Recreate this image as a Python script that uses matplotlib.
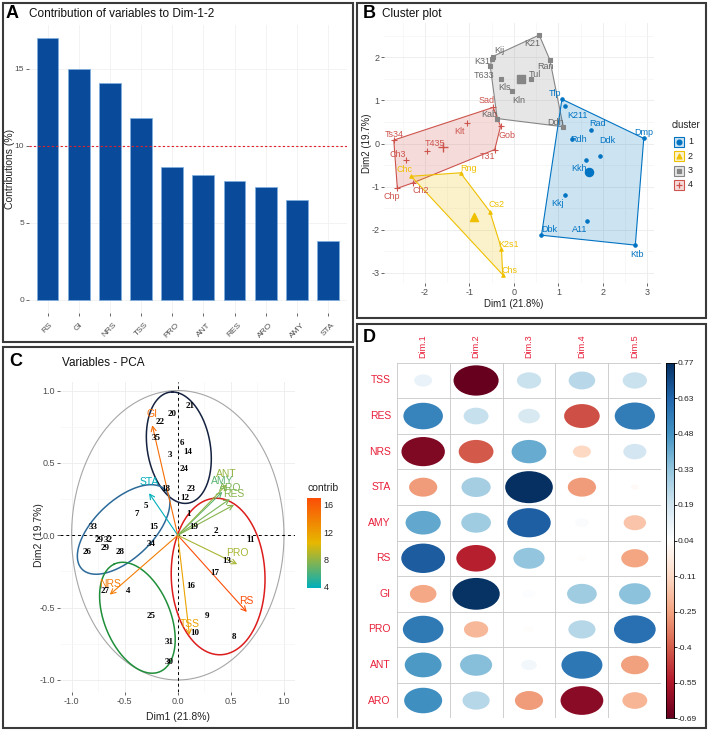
"""Four-panel PCA summary: contributions, cluster plot, variable map, loadings."""

import matplotlib

matplotlib.use("Agg")
import matplotlib.pyplot as plt
import numpy as np
from matplotlib.colors import LinearSegmentedColormap, Normalize
from matplotlib.patches import Ellipse, Polygon, Rectangle

plt.rcParams["font.family"] = ["Liberation Sans", "DejaVu Sans"]
plt.rcParams["axes.unicode_minus"] = False

W, H = 708, 731

# ---- panel A: contribution of variables to Dim-1-2 (%)
VARS_A = ["RS", "GI", "NRS", "TSS", "PRO", "ANT", "RES", "ARO", "AMY", "STA"]
CONTRIB_A = [17.0, 15.0, 14.1, 11.8, 8.66, 8.1, 7.75, 7.36, 6.47, 3.85]

# ---- panel D: loadings of variables on the first five dimensions
VARS_D = ["TSS", "RES", "NRS", "STA", "AMY", "RS", "GI", "PRO", "ANT", "ARO"]
DIMS = ["Dim.1", "Dim.2", "Dim.3", "Dim.4", "Dim.5"]
LOAD_DIM1 = [0.11, 0.53, -0.64, -0.27, 0.42, 0.65, -0.24, 0.56, 0.46, 0.49]
LOAD_DIM2 = [-0.69, 0.21, -0.41, 0.29, 0.30, -0.53, 0.76, -0.20, 0.35, 0.25]
LOAD_DIM3 = [0.20, 0.16, 0.41, 0.77, 0.64, 0.33, 0.05, 0.03, 0.08, -0.27]
LOAD_DIM4 = [0.24, -0.43, -0.11, -0.27, 0.06, 0.03, 0.30, 0.25, 0.57, -0.62]
LOAD_DIM5 = [0.20, 0.55, 0.18, 0.02, -0.17, -0.25, 0.34, 0.59, -0.26, -0.21]
CBAR_D_LABELS = ["0.77", "0.63", "0.48", "0.33", "0.19", "0.04",
                 "-0.11", "-0.25", "-0.4", "-0.55", "-0.69"]

# ---- panel B: individuals on Dim1/Dim2 with k-means cluster
B_NAMES = ["K21", "Kij", "K31", "T633", "Ran", "Tul", "Kls", "Kln", "Ddh", "Kab",
           "Sad", "Klt", "Ts34", "T435", "Gob", "Ch3", "T31", "Ch2", "Chp",
           "Chc", "Rng", "Cs2", "K2s1", "Chs",
           "Tlp", "K211", "Rad", "Rdh", "Ddk", "Kkh", "Kkj", "A11", "Dbk", "Ktb", "Dmp"]
B_CLUSTER = [3, 3, 3, 3, 3, 3, 3, 3, 3, 3,
             4, 4, 4, 4, 4, 4, 4, 4, 4,
             2, 2, 2, 2, 2,
             1, 1, 1, 1, 1, 1, 1, 1, 1, 1, 1]
B_X = [0.57, -0.48, -0.50, -0.53, 0.81, 0.375, -0.285, -0.045, 1.11, -0.375,
       -0.465, -1.05, -2.70, -1.96, -0.30, -2.43, -0.43, -2.26, -2.62,
       -2.31, -1.20, -0.54, -0.28, -0.25,
       1.08, 1.146, 1.74, 1.31, 1.93, 1.63, 1.15, 1.65, 0.62, 2.73, 2.92]
B_Y = [2.52, 2.02, 1.96, 1.79, 1.94, 1.51, 1.50, 1.22, 0.39, 0.58,
       0.84, 0.47, 0.08, -0.17, 0.40, -0.39, -0.14, -0.91, -1.04,
       -0.76, -0.68, -1.58, -2.44, -3.05,
       1.03, 0.875, 0.31, 0.10, -0.28, -0.39, -1.20, -1.79, -2.13, -2.36, 0.12]
CLUSTERS = [1, 2, 3, 4]
CENTROID_X = [1.68, -0.90, 0.17, -1.59]
CENTROID_Y = [-0.66, -1.70, 1.49, -0.09]

# ---- panel C: individual numbers drawn on the variable map
C_IDS = ["21", "20", "22", "35", "6", "14", "3", "24", "18", "23", "12", "5", "7",
         "1", "33", "15", "19", "2", "11", "29", "32", "29", "26", "28", "34",
         "13", "17", "16", "27", "4", "25", "9", "10", "8", "31", "30"]
C_X = [0.115, -0.052, -0.168, -0.199, 0.043, 0.09, -0.073, 0.058, -0.114, 0.121,
       0.065, -0.30, -0.387, 0.10, -0.795, -0.224, 0.146, 0.36, 0.686, -0.745,
       -0.654, -0.683, -0.852, -0.544, -0.255, 0.46, 0.344, 0.121, -0.683, -0.472,
       -0.252, 0.272, 0.162, 0.529, -0.083, -0.083]
C_Y = [0.894, 0.838, 0.78, 0.67, 0.636, 0.576, 0.553, 0.46, 0.318, 0.318,
       0.26, 0.20, 0.145, 0.145, 0.06, 0.055, 0.055, 0.03, -0.032, -0.032,
       -0.032, -0.09, -0.118, -0.118, -0.06, -0.175, -0.263, -0.348, -0.383, -0.383,
       -0.556, -0.556, -0.673, -0.70, -0.735, -0.873]

CLUSTER_COLORS = {1: "#0073C2", 2: "#EFC000", 3: "#868686", 4: "#CD534C"}
CLUSTER_MARKERS = {1: "o", 2: "^", 3: "s", 4: "+"}
LABEL_RED = "#E8203A"
TICK_GRAY = "#4d4d4d"

# label positions (data units) for the cluster plot
B_LABEL_POS = {
  "K21": (0.41, 2.32), "Kij": (-0.32, 2.15), "K31": (-0.71, 1.91),
  "T633": (-0.67, 1.59), "Ran": (0.71, 1.80), "Tul": (0.48, 1.61),
  "Kls": (-0.21, 1.30), "Kln": (0.11, 0.99), "Ddh": (0.93, 0.48),
  "Kab": (-0.56, 0.68), "Sad": (-0.61, 1.01), "Klt": (-1.23, 0.29),
  "Ts34": (-2.70, 0.20), "T435": (-1.78, -0.01), "Gob": (-0.15, 0.19),
  "Ch3": (-2.60, -0.25), "T31": (-0.60, -0.31), "Ch2": (-2.09, -1.10),
  "Chp": (-2.75, -1.24), "Chc": (-2.47, -0.60), "Rng": (-1.01, -0.58),
  "Cs2": (-0.39, -1.41), "K2s1": (-0.13, -2.34), "Chs": (-0.10, -2.96),
  "Tlp": (0.93, 1.16), "K211": (1.42, 0.66), "Rad": (1.87, 0.46),
  "Rdh": (1.46, 0.10), "Ddk": (2.09, 0.06), "Kkh": (1.46, -0.58),
  "Kkj": (0.99, -1.39), "A11": (1.48, -2.00), "Dbk": (0.79, -2.00),
  "Ktb": (2.76, -2.58), "Dmp": (2.92, 0.25),
}

# concentration ellipses of panel C: colour, centre, two conjugate half-axes
C_ELLIPSES = [
  ("#14213f", (0.01, 0.605), (-0.06, 0.385), (0.30, 0.0)),
  ("#2c6a9a", (-0.51, 0.04), (0.424, 0.236), (-0.10, 0.20)),
  ("#1f8f3a", (-0.38, -0.57), (-0.22, 0.37), (0.28, 0.10)),
  ("#dd1c1c", (0.38, -0.285), (-0.04, 0.54), (0.44, 0.03)),
]


def px_axes(fig, left, top, right, bottom):
  return fig.add_axes([left / W, 1 - bottom / H, (right - left) / W, (bottom - top) / H])


def fig_text(fig, x, y, s, **kw):
  return fig.text(x / W, 1 - y / H, s, **kw)


def convex_hull(points):
  pts = sorted(set(points))
  if len(pts) < 3:
    return pts

  def cross(o, a, b):
    return (a[0] - o[0]) * (b[1] - o[1]) - (a[1] - o[1]) * (b[0] - o[0])

  lower, upper = [], []
  for p in pts:
    while len(lower) >= 2 and cross(lower[-2], lower[-1], p) <= 0:
      lower.pop()
    lower.append(p)
  for p in reversed(pts):
    while len(upper) >= 2 and cross(upper[-2], upper[-1], p) <= 0:
      upper.pop()
    upper.append(p)
  return lower[:-1] + upper[:-1]


def style_gg(ax, size=6.5):
  for s in ax.spines.values():
    s.set_visible(False)
  ax.tick_params(length=2, width=0.6, color=TICK_GRAY, labelcolor=TICK_GRAY,
                 labelsize=size, pad=1.5)
  ax.set_axisbelow(True)


def panel_a(fig):
  ax = px_axes(fig, 28.8, 25, 346.7, 313)
  x = np.arange(len(VARS_A))
  ax.bar(x, CONTRIB_A, width=0.7, color="#0A4A9A", edgecolor="#7fb0e0", linewidth=0.5)
  ax.axhline(10, color="#e0202a", ls=(0, (2, 2)), lw=0.8)
  ax.set_xlim(-0.6, len(VARS_A) - 0.4)
  ax.set_ylim(-0.85, 17.85)
  ax.set_yticks([0, 5, 10, 15])
  ax.set_xticks(x)
  ax.set_xticklabels(VARS_A, rotation=45, ha="center", va="top")
  ax.grid(True, color="#f1f1f1", lw=0.6)
  style_gg(ax, 6)
  ax.tick_params(axis="x", pad=4)
  fig_text(fig, 10, 169, "Contributions (%)", rotation=90, ha="center", va="center",
           fontsize=7.5, color="#222222")
  fig_text(fig, 29, 14, "Contribution of variables to Dim-1-2", fontsize=8.5,
           va="center", color="#111111")
  fig_text(fig, 6, 14, "A", fontsize=13, fontweight="bold", va="center")


def panel_b(fig):
  ax = px_axes(fig, 384, 23, 654, 283)
  names = np.array(B_NAMES)
  cl = np.array(B_CLUSTER)
  xs = np.array(B_X)
  ys = np.array(B_Y)
  for c in [3, 4, 2, 1]:
    m = cl == c
    col = CLUSTER_COLORS[c]
    hull = convex_hull(list(zip(xs[m], ys[m])))
    ax.add_patch(Polygon(hull, closed=True, facecolor=col, alpha=0.2, edgecolor="none"))
    ax.add_patch(Polygon(hull, closed=True, facecolor="none", edgecolor=col, lw=0.8))
  for c in CLUSTERS:
    m = cl == c
    col = CLUSTER_COLORS[c]
    mk = CLUSTER_MARKERS[c]
    ax.scatter(xs[m], ys[m], marker=mk, s=6 if mk != "+" else 18, color=col,
               linewidths=0.8, zorder=3)
    i = CLUSTERS.index(c)
    ax.scatter([CENTROID_X[i]], [CENTROID_Y[i]], marker=mk, s=34 if mk != "+" else 60,
               color=col, linewidths=1.0, zorder=3)
    tcol = "#666666" if c == 3 else col
    for n in names[m]:
      lx, ly = B_LABEL_POS[n]
      ax.text(lx, ly, n, fontsize=6.5, color=tcol, ha="center", va="center", zorder=4)
  ax.set_xlim(-2.92, 3.15)
  ax.set_ylim(-3.24, 2.80)
  ax.set_xticks([-2, -1, 0, 1, 2, 3])
  ax.set_yticks([-3, -2, -1, 0, 1, 2])
  ax.set_xticks(np.arange(-2.5, 3.1, 1), minor=True)
  ax.set_yticks(np.arange(-2.5, 2.6, 1), minor=True)
  ax.grid(True, which="major", color="#ebebeb", lw=0.6)
  ax.grid(True, which="minor", color="#f4f4f4", lw=0.5)
  ax.tick_params(which="minor", length=0)
  style_gg(ax)
  fig_text(fig, 514, 304, "Dim1 (21.8%)", ha="center", va="center", fontsize=7,
           color="#222222")
  fig_text(fig, 367, 143, "Dim2 (19.7%)", rotation=90, ha="center", va="center",
           fontsize=7, color="#222222")
  fig_text(fig, 382, 13.5, "Cluster plot", fontsize=8.5, va="center", color="#111111")
  fig_text(fig, 363, 13.5, "B", fontsize=13, fontweight="bold", va="center")

  # legend
  lax = px_axes(fig, 665, 115, 705, 195)
  lax.set_xlim(665, 705)
  lax.set_ylim(195, 115)
  lax.axis("off")
  lax.text(672, 125, "cluster", fontsize=7, va="center", ha="left", color="#222222")
  for k, c in enumerate(CLUSTERS):
    yc = 141.7 + 14.4 * k
    col = CLUSTER_COLORS[c]
    lax.add_patch(Rectangle((674, yc - 5), 10, 10, facecolor=col, alpha=0.2,
                            edgecolor="none"))
    lax.add_patch(Rectangle((674, yc - 5), 10, 10, facecolor="none", edgecolor=col,
                            lw=0.8))
    mk = CLUSTER_MARKERS[c]
    lax.scatter([679], [yc], marker=mk, s=12 if mk != "+" else 22, color=col,
                linewidths=0.9)
    lax.text(688, yc, str(c), fontsize=6.5, va="center", ha="left", color="#222222")


def panel_c(fig):
  ax = px_axes(fig, 60, 381.7, 295, 691.7)
  t = np.linspace(0, 2 * np.pi, 300)
  ax.plot(np.cos(t), np.sin(t), color="#a6a6a6", lw=0.8)
  ax.axhline(0, color="black", ls=(0, (3, 3)), lw=0.7)
  ax.axvline(0, color="black", ls=(0, (3, 3)), lw=0.7)

  cmap = LinearSegmentedColormap.from_list("contrib", ["#00AFBB", "#E7B800", "#FC4E07"])
  norm = Normalize(min(CONTRIB_A), max(CONTRIB_A))
  contrib = dict(zip(VARS_A, CONTRIB_A))
  for name, x, y in zip(VARS_D, LOAD_DIM1, LOAD_DIM2):
    col = cmap(norm(contrib[name]))
    ax.annotate("", xy=(x, y), xytext=(0, 0),
                arrowprops=dict(arrowstyle="->,head_length=0.35,head_width=0.18",
                                color=col, lw=0.8, shrinkA=0, shrinkB=0))
    ax.text(x, y + 0.075, name, color=col, fontsize=7.5, ha="center", va="center")

  for col, (cx, cy), (ux, uy), (vx, vy) in C_ELLIPSES:
    ax.plot(cx + ux * np.cos(t) + vx * np.sin(t), cy + uy * np.cos(t) + vy * np.sin(t),
            color=col, lw=1.1)

  for s, x, y in zip(C_IDS, C_X, C_Y):
    ax.text(x, y, s, fontsize=6.5, fontweight="bold", family="Liberation Serif",
            ha="center", va="center", color="black")

  ax.set_xlim(-1.109, 1.104)
  ax.set_ylim(-1.081, 1.061)
  ax.set_xticks([-1.0, -0.5, 0.0, 0.5, 1.0])
  ax.set_yticks([-1.0, -0.5, 0.0, 0.5, 1.0])
  ax.set_xticks([-0.75, -0.25, 0.25, 0.75], minor=True)
  ax.set_yticks([-0.75, -0.25, 0.25, 0.75], minor=True)
  ax.grid(True, which="major", color="#ececec", lw=0.6)
  ax.grid(True, which="minor", color="#f5f5f5", lw=0.5)
  ax.tick_params(which="minor", length=0)
  style_gg(ax)
  fig_text(fig, 178, 716.5, "Dim1 (21.8%)", ha="center", va="center", fontsize=7.5,
           color="#222222")
  fig_text(fig, 39, 535, "Dim2 (19.7%)", rotation=90, ha="center", va="center",
           fontsize=7.5, color="#222222")
  fig_text(fig, 62, 362.5, "Variables - PCA", fontsize=8.5, va="center", color="#111111")
  fig_text(fig, 9, 361.5, "C", fontsize=13, fontweight="bold", va="center")

  # colour bar
  cax = px_axes(fig, 307, 498, 321, 588)
  grad = np.linspace(norm.vmin, norm.vmax, 256)[:, None]
  cax.imshow(grad, aspect="auto", cmap=cmap, norm=norm, origin="lower",
             extent=[0, 1, norm.vmin, norm.vmax])
  cax.set_xticks([])
  cax.yaxis.tick_right()
  cax.set_yticks([4, 8, 12, 16])
  cax.tick_params(axis="y", length=0, labelsize=6.5, labelcolor="#222222", pad=2)
  for s in cax.spines.values():
    s.set_visible(False)
  fig_text(fig, 307, 488, "contrib", fontsize=7.5, va="center", color="#222222")


def panel_d(fig):
  ax = px_axes(fig, 396.7, 362.7, 661.3, 718.3)
  loads = np.array([LOAD_DIM1, LOAD_DIM2, LOAD_DIM3, LOAD_DIM4, LOAD_DIM5]).T
  vmin, vmax = float(loads.min()), float(loads.max())
  cols = ["#67001F", "#B2182B", "#D6604D", "#F4A582", "#FDDBC7", "#FFFFFF",
          "#D1E5F0", "#92C5DE", "#4393C3", "#2166AC", "#053061"]
  cmap = LinearSegmentedColormap.from_list("rdbu", cols)
  norm = Normalize(vmin, vmax)
  amax = np.abs(loads).max()
  nr, nc = loads.shape
  for i in range(nr):
    for j in range(nc):
      v = loads[i, j]
      d = 0.9 * np.sqrt(abs(v) / amax)
      ax.add_patch(Ellipse((j + 0.5, i + 0.5), d, d, facecolor=cmap(norm(v)),
                           edgecolor="none"))
  for k in range(nc + 1):
    ax.axvline(k, color="#c8c8c8", lw=0.6)
  for k in range(nr + 1):
    ax.axhline(k, color="#c8c8c8", lw=0.6)
  ax.set_xlim(0, nc)
  ax.set_ylim(nr, 0)
  ax.axis("off")
  for i, name in enumerate(VARS_D):
    ax.text(-0.11, i + 0.5, name, color=LABEL_RED, fontsize=7.5, ha="right",
            va="center")
  for j, name in enumerate(DIMS):
    ax.text(j + 0.5, -0.12, name, color=LABEL_RED, fontsize=6.5, rotation=90,
            ha="center", va="bottom")
  fig_text(fig, 363, 337, "D", fontsize=13, fontweight="bold", va="center")

  cax = px_axes(fig, 665.7, 362.7, 674, 718.3)
  grad = np.linspace(vmin, vmax, 256)[:, None]
  cax.imshow(grad, aspect="auto", cmap=cmap, norm=norm, origin="lower",
             extent=[0, 1, vmin, vmax])
  cax.set_xticks([])
  cax.yaxis.tick_right()
  cax.set_yticks(np.linspace(vmax, vmin, len(CBAR_D_LABELS)))
  cax.set_yticklabels(CBAR_D_LABELS)
  cax.tick_params(axis="y", length=2, width=0.6, labelsize=6, labelcolor="#222222",
                  pad=0.5)
  for s in cax.spines.values():
    s.set_linewidth(0.6)


def main():
  fig = plt.figure(figsize=(W / 100, H / 100), dpi=100)
  panel_a(fig)
  panel_b(fig)
  panel_c(fig)
  panel_d(fig)
  for left, top, right, bottom in [(3, 3, 352.5, 342), (357, 3, 706, 318),
                                   (3, 347, 352.5, 728), (357, 324, 706, 728)]:
    fig.add_artist(Rectangle((left / W, 1 - bottom / H), (right - left) / W,
                             (bottom - top) / H, transform=fig.transFigure,
                             fill=False, edgecolor="#3a3a3a", lw=1.5))
  fig.savefig("out.png", dpi=100)
  plt.close(fig)


if __name__ == "__main__":
  main()
